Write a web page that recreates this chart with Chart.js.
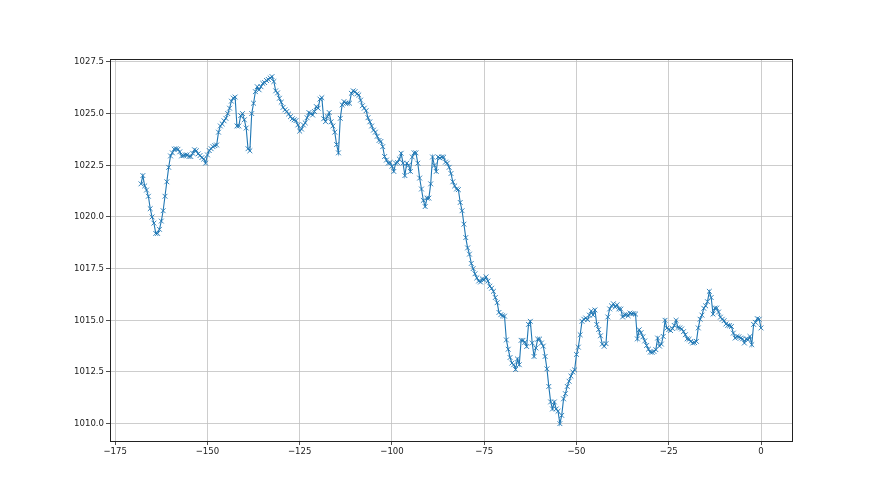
<!DOCTYPE html>
<html>
<head>
<meta charset="utf-8">
<script src="https://cdn.jsdelivr.net/npm/chart.js@4"></script>
<style>
  html, body { margin: 0; padding: 0; background: #fff; }
  #chart { display: block; }
</style>
</head>
<body>
<canvas id="chart" width="880" height="495"></canvas>
<script>
// hourly offsets: first reading and step between readings (hours)
const startHour = -168;
const stepHour = 0.5;

// pressure readings, one per half hour
const pressure = [
  1021.6, 1022.0, 1021.5, 1021.3, 1021.0, 1020.4, 1020.0, 1019.7, 1019.2, 1019.2,
  1019.4, 1019.8, 1020.3, 1021.0, 1021.7, 1022.4, 1022.95, 1023.1, 1023.28, 1023.3,
  1023.27, 1023.15, 1022.95, 1022.97, 1023.0, 1023.0, 1022.92, 1022.92, 1023.08, 1023.25,
  1023.2, 1023.05, 1022.97, 1022.87, 1022.8, 1022.6, 1023.0, 1023.21, 1023.3, 1023.4,
  1023.45, 1023.48, 1024.1, 1024.4, 1024.5, 1024.65, 1024.77, 1025.0, 1025.26, 1025.6,
  1025.75, 1025.8, 1024.4, 1024.4, 1024.9, 1025.0, 1024.7, 1024.3, 1023.3, 1023.2,
  1025.0, 1025.5, 1026.06, 1026.3, 1026.15, 1026.3, 1026.46, 1026.5, 1026.6, 1026.65,
  1026.72, 1026.79, 1026.55, 1026.1, 1026.0, 1025.74, 1025.55, 1025.3, 1025.18, 1025.1,
  1024.98, 1024.85, 1024.75, 1024.7, 1024.66, 1024.45, 1024.15, 1024.25, 1024.45, 1024.55,
  1024.8, 1025.05, 1025.0, 1024.93, 1025.1, 1025.34, 1025.26, 1025.7, 1025.77, 1024.75,
  1024.61, 1024.85, 1025.05, 1024.6, 1024.4, 1024.1, 1023.5, 1023.1, 1024.77, 1025.42,
  1025.58, 1025.5, 1025.5, 1025.5, 1025.98, 1026.1, 1026.06, 1025.95, 1025.9, 1025.65,
  1025.38, 1025.26, 1025.14, 1024.8, 1024.6, 1024.4, 1024.2, 1024.1, 1023.9, 1023.7,
  1023.65, 1023.4, 1022.92, 1022.75, 1022.6, 1022.63, 1022.45, 1022.2, 1022.6, 1022.63,
  1022.8, 1023.08, 1022.6, 1022.0, 1022.6, 1022.5, 1022.2, 1022.9, 1023.1, 1023.1,
  1022.6, 1021.88, 1021.35, 1020.8, 1020.5, 1020.91, 1020.91, 1021.6, 1022.9, 1022.5,
  1022.2, 1022.9, 1022.85, 1022.9, 1022.89, 1022.65, 1022.6, 1022.4, 1022.1, 1021.7,
  1021.5, 1021.35, 1021.32, 1020.7, 1020.3, 1019.65, 1019.0, 1018.5, 1018.2, 1017.75,
  1017.5, 1017.25, 1017.05, 1016.9, 1016.85, 1017.0, 1016.96, 1017.1, 1016.9, 1016.65,
  1016.55, 1016.4, 1016.1, 1015.85, 1015.38, 1015.27, 1015.22, 1015.2, 1014.05, 1013.6,
  1013.2, 1012.93, 1012.85, 1012.62, 1013.13, 1012.85, 1014.03, 1014.03, 1013.93, 1013.73,
  1014.8, 1014.95, 1013.9, 1013.25, 1013.66, 1014.09, 1014.09, 1013.9, 1013.75, 1013.25,
  1012.65, 1011.8, 1011.05, 1010.71, 1011.05, 1010.71, 1010.6, 1010.0, 1010.4, 1011.2,
  1011.45, 1011.8, 1012.05, 1012.3, 1012.5, 1012.6, 1013.35, 1013.7, 1014.3, 1014.95,
  1015.05, 1015.11, 1015.03, 1015.25, 1015.45, 1015.25, 1015.5, 1014.8, 1014.55, 1014.25,
  1013.85, 1013.74, 1013.87, 1015.16, 1015.55, 1015.7, 1015.8, 1015.64, 1015.75, 1015.55,
  1015.54, 1015.16, 1015.27, 1015.27, 1015.22, 1015.35, 1015.32, 1015.32, 1015.3, 1014.1,
  1014.54, 1014.4, 1014.2, 1014.0, 1013.78, 1013.6, 1013.46, 1013.45, 1013.49, 1013.58,
  1014.14, 1013.75, 1013.85, 1014.22, 1015.0, 1014.62, 1014.55, 1014.5, 1014.6, 1014.75,
  1015.0, 1014.65, 1014.63, 1014.58, 1014.45, 1014.3, 1014.1, 1014.08, 1013.98, 1013.9,
  1013.92, 1013.98, 1014.63, 1015.05, 1015.25, 1015.58, 1015.7, 1015.9, 1016.4, 1016.1,
  1015.3, 1015.59, 1015.59, 1015.4, 1015.15, 1015.05, 1014.98, 1014.82, 1014.75, 1014.74,
  1014.7, 1014.38, 1014.14, 1014.22, 1014.2, 1014.14, 1014.1, 1013.9, 1014.1, 1014.06,
  1014.22, 1013.82, 1014.8, 1014.9, 1015.08, 1015.05, 1014.63
];

const xTicks = [-175, -150, -125, -100, -75, -50, -25, 0];
const yTicks = [1010.0, 1012.5, 1015.0, 1017.5, 1020.0, 1022.5, 1025.0, 1027.5];

const points = pressure.map((p, i) => ({ x: startHour + i * stepHour, y: p }));

// matplotlib style axes: box round the plot area
const frame = {
  id: "frame",
  afterDraw(chart) {
    const { ctx, chartArea: a } = chart;
    ctx.save();
    ctx.strokeStyle = "#222";
    ctx.lineWidth = 1;
    ctx.strokeRect(Math.round(a.left) + 0.5, Math.round(a.top) + 0.5,
      Math.round(a.right - a.left), Math.round(a.bottom - a.top));
    ctx.restore();
  }
};

const tickFont = { family: "'DejaVu Sans Condensed', 'Liberation Sans Narrow', 'DejaVu Sans', sans-serif", size: 9.5 };

new Chart(document.getElementById("chart"), {
  type: "line",
  data: {
    datasets: [{
      data: points,
      borderColor: "#1f77b4",
      borderWidth: 1.1,
      pointStyle: "crossRot",
      pointRadius: 3.4,
      pointBorderWidth: 0.9,
      pointBorderColor: "#1f77b4",
      pointBackgroundColor: "#1f77b4",
      tension: 0,
      fill: false
    }]
  },
  options: {
    responsive: false,
    animation: false,
    layout: { padding: { left: 0, top: 59, right: 88, bottom: 0 } },
    plugins: { legend: { display: false }, tooltip: { enabled: false } },
    scales: {
      x: {
        type: "linear",
        min: -176.4,
        max: 8.4,
        afterBuildTicks: (s) => { s.ticks = xTicks.map(v => ({ value: v })); },
        afterFit: (s) => { s.height = 54; },
        ticks: {
          color: "#222",
          font: tickFont,
          padding: 1,
          maxRotation: 0,
          callback: (v) => String(v).replace("-", "\u2212")
        },
        grid: { color: "#c0c0c0", lineWidth: 0.8, tickColor: "#222", tickLength: 4 },
        border: { display: false }
      },
      y: {
        min: 1009.16,
        max: 1027.64,
        afterBuildTicks: (s) => { s.ticks = yTicks.map(v => ({ value: v })); },
        afterFit: (s) => { s.width = 110; },
        ticks: {
          color: "#222",
          font: tickFont,
          padding: 2,
          callback: (v) => Number(v).toFixed(1)
        },
        grid: { color: "#c0c0c0", lineWidth: 0.8, tickColor: "#222", tickLength: 4 },
        border: { display: false }
      }
    }
  },
  plugins: [frame]
});
</script>
</body>
</html>
